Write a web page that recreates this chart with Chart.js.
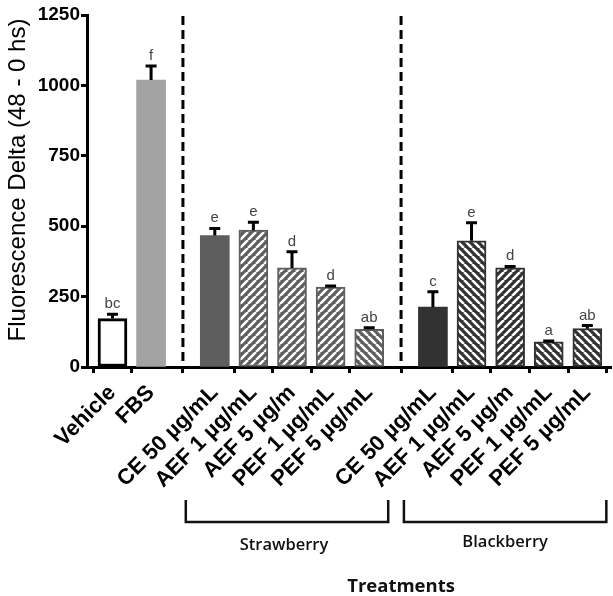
<!DOCTYPE html>
<html>
<head>
<meta charset="utf-8">
<script src="https://cdn.jsdelivr.net/npm/chart.js@4.4.1/dist/chart.umd.min.js"></script>
<style>
  html, body { margin: 0; padding: 0; background: #fff; }
  #wrap { width: 613px; height: 596px; }
</style>
</head>
<body>
<div id="wrap"><canvas id="chart" width="613" height="596"></canvas></div>
<script>
// Treatments on the x axis, in plotting order
const treatments = ['Vehicle', 'FBS',
  'CE 50 µg/mL', 'AEF 1 µg/mL', 'AEF 5 µg/m', 'PEF 1 µg/mL', 'PEF 5 µg/mL',
  'CE 50 µg/mL', 'AEF 1 µg/mL', 'AEF 5 µg/m', 'PEF 1 µg/mL', 'PEF 5 µg/mL'];
// Fruit source of each treatment ('' = controls)
const fruit = ['', '',
  'Strawberry', 'Strawberry', 'Strawberry', 'Strawberry', 'Strawberry',
  'Blackberry', 'Blackberry', 'Blackberry', 'Blackberry', 'Blackberry'];
const fruitGroups = ['Strawberry', 'Blackberry'];
// Mean fluorescence delta (48 - 0 h) and its error
const fluorescenceDelta = [172, 1019, 467, 486, 352, 284, 134, 213, 448, 352, 89, 136];
const errorUpper = [15, 50, 25, 28, 57, 4, 5, 54, 64, 5, 3, 11];
// Statistical grouping letters
const letters = ['bc', 'f', 'e', 'e', 'd', 'd', 'ab', 'c', 'e', 'd', 'a', 'ab'];
// Y axis ticks
const yTicks = [0, 250, 500, 750, 1000, 1250];

// Bar styles
const barStyle = ['open', 'light', 'mid', 'mid/', 'mid/', 'mid/', 'mid\\', 'dark', 'dark\\', 'dark/', 'dark\\', 'dark\\'];
const SHADES = { light: '#a3a3a3', mid: '#5e5e5e', dark: '#323232' };
const GROUP_GAP = 0.65;   // extra space between fruit groups, in category units
const FONT = '"Liberation Sans", Arial, sans-serif';

// slot of each treatment on the linear x scale
const slot = treatments.map((t, i) => i + GROUP_GAP * (fruit[i] ? fruitGroups.indexOf(fruit[i]) + 1 : 0));

function hatch(base, dir) {
  const s = 8;
  const c = document.createElement('canvas');
  c.width = c.height = s;
  const g = c.getContext('2d');
  g.fillStyle = base;
  g.fillRect(0, 0, s, s);
  g.strokeStyle = '#ffffff';
  g.lineWidth = 2.6;
  g.beginPath();
  for (let k = -1; k <= 1; k++) {
    if (dir === '/') { g.moveTo(k * s, s); g.lineTo(k * s + s, 0); }
    else { g.moveTo(k * s, 0); g.lineTo(k * s + s, s); }
  }
  g.stroke();
  return g.createPattern(c, 'repeat');
}

const canvas = document.getElementById('chart');
const ctx = canvas.getContext('2d');

const isHatched = st => st.endsWith('/') || st.endsWith('\\');
const shadeOf = st => SHADES[st.replace(/[\/\\]/, '')];

const fills = barStyle.map(st => {
  if (st === 'open') return '#ffffff';
  return isHatched(st) ? hatch(shadeOf(st), st.slice(-1)) : shadeOf(st);
});
const borders = barStyle.map(st => st === 'open' ? '#000000' : shadeOf(st));
const borderWidths = barStyle.map(st => st === 'open' ? 3 : (isHatched(st) ? 2 : 0));

const xMin = -0.66;
const xMax = 12.92;

const overlay = {
  id: 'overlay',
  afterDatasetsDraw(chart) {
    const { ctx, scales: { x, y }, chartArea } = chart;
    ctx.save();

    // dashed separators between control and fruit groups
    ctx.strokeStyle = '#000';
    ctx.lineWidth = 3;
    ctx.setLineDash([9, 5]);
    fruitGroups.forEach(gname => {
      const first = fruit.indexOf(gname);
      const mid = (slot[first - 1] + slot[first]) / 2;
      const px = x.getPixelForValue(mid);
      ctx.beginPath();
      ctx.moveTo(px, y.getPixelForValue(1250) + 1);
      ctx.lineTo(px, chartArea.bottom);
      ctx.stroke();
    });
    ctx.setLineDash([]);

    // upper error bars and grouping letters
    fluorescenceDelta.forEach((v, i) => {
      const px = x.getPixelForValue(slot[i]);
      const yBar = y.getPixelForValue(v);
      const yTop = y.getPixelForValue(v + errorUpper[i]);
      ctx.strokeStyle = '#000';
      ctx.lineWidth = 3;
      ctx.beginPath();
      ctx.moveTo(px, yBar);
      ctx.lineTo(px, yTop);
      ctx.moveTo(px - 5.5, yTop);
      ctx.lineTo(px + 5.5, yTop);
      ctx.stroke();
      ctx.fillStyle = '#444';
      ctx.font = '15px ' + FONT;
      ctx.textAlign = 'center';
      ctx.textBaseline = 'alphabetic';
      ctx.fillText(letters[i], px, yTop - 6);
    });

    // fruit brackets and their names
    ctx.strokeStyle = '#111';
    ctx.lineWidth = 2.5;
    ctx.lineJoin = 'miter';
    const bracketTop = 500, bracketBottom = 522;
    fruitGroups.forEach(gname => {
      const first = fruit.indexOf(gname);
      const last = fruit.lastIndexOf(gname);
      const left = x.getPixelForValue(slot[first]) - 29;
      const right = x.getPixelForValue(slot[last]) + 19;
      ctx.beginPath();
      ctx.moveTo(left, bracketTop);
      ctx.lineTo(left, bracketBottom);
      ctx.lineTo(right, bracketBottom);
      ctx.lineTo(right, bracketTop);
      ctx.stroke();
      ctx.fillStyle = '#111';
      ctx.font = '600 16.5px "Open Sans", sans-serif';
      ctx.textAlign = 'center';
      ctx.textBaseline = 'middle';
      ctx.fillText(gname, (left + right) / 2 + (gname === 'Strawberry' ? -3 : 0), gname === 'Strawberry' ? 545 : 542);
    });

    // axis titles
    ctx.fillStyle = '#111';
    ctx.font = '700 18.5px "Open Sans", sans-serif';
    ctx.textAlign = 'center';
    ctx.textBaseline = 'middle';
    const fStart = fruit.indexOf(fruitGroups[0]);
    const fEnd = fruit.lastIndexOf(fruitGroups[fruitGroups.length - 1]);
    ctx.fillText('Treatments', (x.getPixelForValue(slot[fStart]) + x.getPixelForValue(slot[fEnd])) / 2, 587);

    ctx.translate(18, 180);
    ctx.rotate(-Math.PI / 2);
    ctx.fillStyle = '#000';
    ctx.font = '24px ' + FONT;
    ctx.fillText('Fluorescence Delta (48 - 0 hs)', 0, 0);
    ctx.restore();
  }
};

new Chart(ctx, {
  type: 'bar',
  data: {
    datasets: [{
      data: treatments.map((t, i) => ({ x: slot[i], y: fluorescenceDelta[i] })),
      backgroundColor: fills,
      borderColor: borders,
      borderWidth: borderWidths,
      borderSkipped: false,
      barThickness: 29
    }]
  },
  options: {
    responsive: false,
    animation: false,
    devicePixelRatio: 1,
    layout: { padding: { top: 15, right: 0, bottom: 0, left: 0 } },
    plugins: { legend: { display: false }, tooltip: { enabled: false } },
    scales: {
      x: {
        type: 'linear',
        min: xMin,
        max: xMax,
        offset: false,
        afterBuildTicks: s => { s.ticks = slot.map(v => ({ value: v })); },
        afterFit: s => { s.height = 229; },
        ticks: {
          autoSkip: false,
          minRotation: 45,
          maxRotation: 45,
          padding: 7,
          color: '#000',
          font: { family: FONT, size: 22, weight: 'bold' },
          callback: (v, i) => treatments[i]
        },
        grid: { drawOnChartArea: false, drawTicks: true, tickLength: 6, tickWidth: 3, tickColor: '#000' },
        border: { color: '#000', width: 3 }
      },
      y: {
        min: 0,
        max: 1250,
        afterBuildTicks: s => { s.ticks = yTicks.map(v => ({ value: v })); },
        afterFit: s => { s.width = 87; },
        ticks: {
          padding: 1,
          color: '#000',
          font: { family: FONT, size: 19, weight: 'bold' },
          callback: v => String(v)
        },
        grid: { drawOnChartArea: false, drawTicks: true, tickLength: 6, tickWidth: 3, tickColor: '#000' },
        border: { color: '#000', width: 3 }
      }
    }
  },
  plugins: [overlay]
});
</script>
</body>
</html>
